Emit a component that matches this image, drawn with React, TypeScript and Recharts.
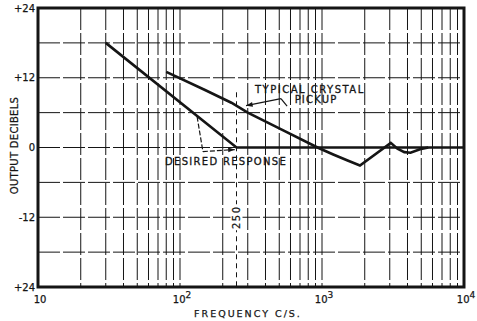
import React from "react";
import {
  LineChart,
  Line,
  XAxis,
  YAxis,
  CartesianGrid,
  ReferenceLine,
  ReferenceArea,
  ReferenceDot,
  Label,
} from "recharts";

// grid / tick values
const gridFreqs = [
  10, 20, 30, 40, 50, 60, 70, 80, 90, 100, 200, 300, 400, 500, 600, 700, 800,
  900, 1000, 2000, 3000, 4000, 5000, 6000, 7000, 8000, 9000, 10000,
];
const decadeTicks = [10, 100, 1000, 10000];
const decadeExps = ["", "2", "3", "4"];
const dbTicks = [-24, -18, -12, -6, 0, 6, 12, 18, 24];
const dbLabelValues = [24, 12, 0, -12, -24];
const dbLabelTexts = ["+24", "+12", "0", "-12", "+24"];

// desired response
const desiredFreq = [30, 250, 10000];
const desiredDb = [18, 0, 0];

// typical crystal pickup
const crystalFreq = [
  80, 150, 230, 300, 500, 930, 1200, 1500, 1850, 3050, 3400, 3800, 4200, 4900,
  5600,
];
const crystalDb = [
  13, 9.9, 7.7, 6, 3.3, 0, -1.2, -2.2, -3.1, 0.8, -0.2, -0.8, -0.9, -0.3, 0,
];

const markerFreq = 250;

const desiredData = desiredFreq.map((f, i) => ({ f, db: desiredDb[i] }));
const crystalData = crystalFreq.map((f, i) => ({ f, db: crystalDb[i] }));

const INK = "#151515";
const FONT = "'DejaVu Sans', sans-serif";

const XTick = (props: any) => {
  const { x, y, payload } = props;
  const idx = decadeTicks.indexOf(payload.value);
  if (idx < 0) return <g />;
  return (
    <text
      x={x + 2}
      y={y + 12}
      textAnchor="middle"
      dominantBaseline="central"
      fontFamily={FONT}
      fontSize={10}
      fill={INK}
      stroke={INK}
      strokeWidth={0.25}
    >
      <tspan>10</tspan>
      {decadeExps[idx] && (
        <tspan dy={-4} fontSize={9}>
          {decadeExps[idx]}
        </tspan>
      )}
    </text>
  );
};

const YTick = (props: any) => {
  const { x, y, payload } = props;
  const idx = dbLabelValues.indexOf(payload.value);
  if (idx < 0) return <g />;
  return (
    <text
      x={x - 3}
      y={y}
      textAnchor="end"
      dominantBaseline="central"
      fontFamily={FONT}
      fontSize={10}
      fill={INK}
      stroke={INK}
      strokeWidth={0.25}
    >
      {dbLabelTexts[idx]}
    </text>
  );
};

const arrowShape = (dashed: boolean) => (p: any) => {
  const { x1, y1, x2, y2 } = p;
  const ang = Math.atan2(y2 - y1, x2 - x1);
  const len = 7;
  const w = 0.35;
  const ax = x2 - len * Math.cos(ang - w);
  const ay = y2 - len * Math.sin(ang - w);
  const bx = x2 - len * Math.cos(ang + w);
  const by = y2 - len * Math.sin(ang + w);
  return (
    <g>
      <line
        x1={x1}
        y1={y1}
        x2={x2}
        y2={y2}
        stroke={INK}
        strokeWidth={1.2}
        strokeDasharray={dashed ? "5 2" : undefined}
      />
      <path d={`M${ax},${ay}L${x2},${y2}L${bx},${by}Z`} fill={INK} />
    </g>
  );
};

const textShape =
  (text: string, spacing: number, rotate = false, bg = false) =>
  (p: any) => {
    const { cx, cy } = p;
    if (rotate) {
      return (
        <g transform={`rotate(-90 ${cx} ${cy})`}>
          {bg && (
            <rect x={cx - 13} y={cy - 6} width={26} height={12} fill="#fff" />
          )}
          <text
            x={cx}
            y={cy}
            textAnchor="middle"
            dominantBaseline="central"
            fontFamily={FONT}
            fontSize={10}
            letterSpacing={spacing}
            fill={INK}
            stroke={INK}
            strokeWidth={0.25}
          >
            {text}
          </text>
        </g>
      );
    }
    return (
      <text
        x={cx}
        y={cy}
        textAnchor="middle"
        dominantBaseline="central"
        fontFamily={FONT}
        fontSize={10}
        letterSpacing={spacing}
        fill={INK}
        stroke={INK}
        strokeWidth={0.3}
      >
        {text}
      </text>
    );
  };

export default function App() {
  return (
    <div
      style={{
        position: "absolute",
        left: 0,
        top: 0,
        width: 477,
        height: 321,
        background: "#fff",
      }}
    >
      <LineChart
        width={477}
        height={321}
        margin={{ top: 8, right: 13, left: 0, bottom: 0 }}
      >
        <CartesianGrid
          stroke={INK}
          strokeWidth={1}
          strokeDasharray="22 3"
          fill="none"
        />
        <XAxis
          dataKey="f"
          type="number"
          scale="log"
          domain={[10, 10000]}
          ticks={gridFreqs}
          interval={0}
          allowDataOverflow
          axisLine={false}
          tickLine={false}
          tickSize={0}
          tickMargin={0}
          height={34}
          tick={XTick}
        >
          <Label
            content={(p: any) => {
              const vb = p.viewBox;
              return (
                <text
                  x={vb.x + vb.width / 2 - 3}
                  y={vb.y + 26}
                  textAnchor="middle"
                  dominantBaseline="central"
                  fontFamily={FONT}
                  fontSize={9.5}
                  letterSpacing={2}
                  fill={INK}
                  stroke={INK}
                  strokeWidth={0.25}
                >
                  FREQUENCY C/S.
                </text>
              );
            }}
          />
        </XAxis>
        <YAxis
          type="number"
          domain={[-24, 24]}
          ticks={dbTicks}
          interval={0}
          axisLine={false}
          tickLine={false}
          tickSize={0}
          tickMargin={0}
          width={38}
          tick={YTick}
        >
          <Label
            content={(p: any) => {
              const vb = p.viewBox;
              const cx = vb.x + 14;
              const cy = vb.y + vb.height / 2 - 2;
              return (
                <text
                  x={cx}
                  y={cy}
                  transform={`rotate(-90 ${cx} ${cy})`}
                  textAnchor="middle"
                  dominantBaseline="central"
                  fontFamily={FONT}
                  fontSize={10}
                  letterSpacing={0.3}
                  fill={INK}
                  stroke={INK}
                  strokeWidth={0.25}
                >
                  OUTPUT DECIBELS
                </text>
              );
            }}
          />
        </YAxis>

        {/* 250 c/s marker */}
        <ReferenceLine
          segment={[
            { x: markerFreq, y: 9.5 },
            { x: markerFreq, y: -24 },
          ]}
          stroke={INK}
          strokeWidth={1}
          strokeDasharray="5 4"
        />
        <ReferenceDot
          x={markerFreq}
          y={-12}
          r={1}
          shape={textShape("250", 1.5, true, true)}
        />

        <Line
          data={desiredData}
          dataKey="db"
          type="linear"
          stroke={INK}
          strokeWidth={2.6}
          dot={false}
          isAnimationActive={false}
        />
        <Line
          data={crystalData}
          dataKey="db"
          type="linear"
          stroke={INK}
          strokeWidth={2.6}
          dot={false}
          isAnimationActive={false}
        />

        {/* annotations */}
        <ReferenceDot
          x={822}
          y={10}
          r={1}
          shape={textShape("TYPICAL CRYSTAL", 1.5)}
        />
        <ReferenceDot x={908} y={8.3} r={1} shape={textShape("PICKUP", 1.2)} />
        <ReferenceLine
          segment={[
            { x: 568, y: 7.1 },
            { x: 514, y: 8.4 },
          ]}
          stroke={INK}
          strokeWidth={1.2}
        />
        <ReferenceLine
          segment={[
            { x: 514, y: 8.4 },
            { x: 292, y: 7.2 },
          ]}
          shape={arrowShape(false)}
        />
        <ReferenceDot
          x={211}
          y={-2.4}
          r={1}
          shape={textShape("DESIRED RESPONSE", 1.3)}
        />
        <ReferenceLine
          segment={[
            { x: 132, y: 5.3 },
            { x: 145, y: -0.7 },
          ]}
          stroke={INK}
          strokeWidth={1.2}
          strokeDasharray="5 2"
        />
        <ReferenceLine
          segment={[
            { x: 145, y: -0.7 },
            { x: 243, y: -0.35 },
          ]}
          shape={arrowShape(true)}
        />

        <ReferenceArea
          x1={10}
          x2={10000}
          y1={-24}
          y2={24}
          fill="none"
          fillOpacity={0}
          stroke={INK}
          strokeWidth={3}
        />
      </LineChart>
    </div>
  );
}
